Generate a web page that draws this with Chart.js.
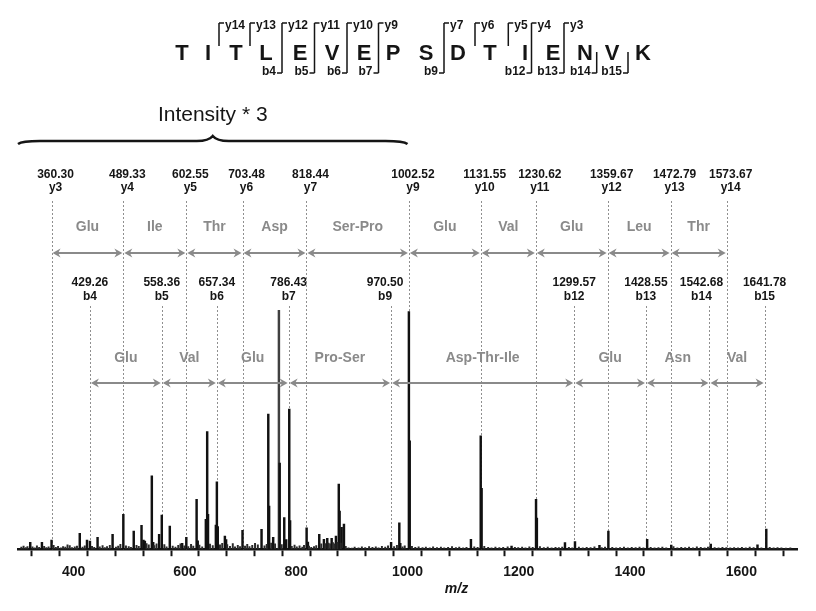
<!DOCTYPE html>
<html>
<head>
<meta charset="utf-8">
<title>MS/MS spectrum TITLEVEPSDTIENVK</title>
<script src="https://cdn.jsdelivr.net/npm/chart.js@4.4.1/dist/chart.umd.min.js"></script>
<style>
  html, body { margin: 0; padding: 0; background: #fff; }
  #wrap { width: 816px; height: 611px; }
</style>
</head>
<body>
<div id="wrap"><canvas id="spectrum" width="816" height="611"></canvas></div>
<script>
// ==========================
// Data
// ==========================

const peptide = ["T", "I", "T", "L", "E", "V", "E", "P", "S", "D", "T", "I", "E", "N", "V", "K"];

// fragment marks in the sequence header (cut after residue n)
const cutAfter = [2, 3, 4, 5, 6, 7, 9, 10, 11, 12, 13, 14, 15];
const cutY = ["y14", "y13", "y12", "y11", "y10", "y9", "y7", "y6", "y5", "y4", "y3", "", ""];
const cutB = ["", "", "b4", "b5", "b6", "b7", "b9", "", "", "b12", "b13", "b14", "b15"];

// y ion ladder
const yIonMz = [360.30, 489.33, 602.55, 703.48, 818.44, 1002.52, 1131.55, 1230.62, 1359.67, 1472.79, 1573.67];
const yIonNames = ["y3", "y4", "y5", "y6", "y7", "y9", "y10", "y11", "y12", "y13", "y14"];
const yGaps = ["Glu", "Ile", "Thr", "Asp", "Ser-Pro", "Glu", "Val", "Glu", "Leu", "Thr"];

// b ion ladder
const bIonMz = [429.26, 558.36, 657.34, 786.43, 970.50, 1299.57, 1428.55, 1542.68, 1641.78];
const bIonNames = ["b4", "b5", "b6", "b7", "b9", "b12", "b13", "b14", "b15"];
const bGaps = ["Glu", "Val", "Glu", "Pro-Ser", "Asp-Thr-Ile", "Glu", "Asn", "Val"];

// region shown with intensity * 3
const scaledRange = [300, 1000];

// main peaks (relative intensity, as drawn)
const peakMz = [322, 343, 360.3, 411, 424, 429.3, 443, 470, 489.3, 508, 522, 525.5, 528,
  540.5, 543, 553.6, 558.4, 572.8, 595, 602.5, 621, 623, 637.6, 640, 641.5, 655.6, 657.4,
  659, 671.8, 674, 703.5, 737.7, 749.8, 751.3, 758.6, 768.9, 770.3, 778.5, 782, 787.5, 789,
  818.7, 821, 841.4, 849.8, 855.8, 863.7, 871.4, 876.5, 878, 881.6, 885.8, 970.5, 985.3, 987,
  1002.5, 1004, 1114, 1131.6, 1133.2, 1187, 1231, 1232.5, 1283, 1301, 1345, 1361, 1430.7,
  1474, 1545, 1629, 1644.8];
const peakInt = [2.9, 2.9, 3.8, 6.6, 3.8, 3.4, 5.0, 6.2, 14.6, 7.6, 10.0, 3.8, 3.4,
  30.7, 2.9, 6.2, 14.3, 9.7, 2.5, 5.0, 20.9, 3.5, 12.5, 49.3, 14.6, 10.1, 28.2,
  9.5, 5.5, 4.0, 7.9, 8.3, 56.6, 18.1, 5.0, 100, 36.1, 13.2, 4.0, 58.7, 12.0,
  9.0, 3.0, 6.2, 4.1, 4.5, 4.5, 5.5, 27.3, 16.0, 9.2, 10.5, 2.9, 11.0, 2.5,
  99.5, 45.4, 4.1, 47.5, 25.5, 1.3, 20.9, 13.0, 2.8, 3.2, 1.6, 7.6, 4.1,
  1.7, 2.1, 1.8, 8.4];

// low level baseline signals
const noiseMz = [306, 310, 314, 317, 326, 330, 334, 338, 347, 351, 355, 364, 368, 372, 377, 381,
  385, 389, 393, 397, 402, 406, 416, 420, 433, 437, 447, 452, 456, 460, 465, 476, 480, 484, 494,
  499, 503, 513, 517, 531, 535, 545, 549, 563, 567, 578, 583, 588, 592, 599, 606, 611, 615, 626,
  631, 645, 650, 663, 667, 676, 681, 686, 690, 695, 699, 708, 712, 716, 721, 726, 731, 743, 747,
  755, 762, 774, 792, 797, 801, 806, 811, 814, 823, 827, 832, 836, 845, 852, 858, 861, 866, 869,
  874, 880, 889, 894, 900, 905, 912, 918, 924, 931, 937, 943, 948, 954, 960, 965, 976, 981, 991,
  995, 1008, 1014, 1020, 1027, 1033, 1040, 1046, 1053, 1060, 1066, 1073, 1080, 1087, 1093, 1100,
  1106, 1120, 1126, 1138, 1145, 1151, 1158, 1165, 1172, 1180, 1193, 1199, 1206, 1212, 1219, 1225,
  1238, 1245, 1252, 1259, 1266, 1272, 1278, 1290, 1296, 1308, 1315, 1322, 1329, 1336, 1349, 1355,
  1368, 1375, 1382, 1389, 1396, 1403, 1410, 1417, 1424, 1437, 1444, 1451, 1458, 1465, 1478, 1485,
  1492, 1499, 1506, 1513, 1520, 1527, 1534, 1540, 1552, 1559, 1566, 1573, 1580, 1587, 1594, 1601,
  1608, 1615, 1622, 1636, 1651, 1658, 1665, 1672, 1680, 1688];
const noiseInt = [0.9, 1.3, 0.7, 1.1, 1.0, 0.6, 1.4, 0.8, 1.2, 0.7, 1.0, 1.6, 0.8, 1.2, 0.6, 1.1,
  0.9, 1.8, 1.5, 0.7, 1.0, 1.3, 0.9, 1.4, 1.2, 0.8, 1.0, 1.5, 0.7, 1.1, 1.6, 0.9, 1.3, 2.0, 1.4,
  1.1, 0.8, 1.6, 1.2, 2.4, 1.8, 1.5, 2.2, 1.9, 1.0, 1.3, 0.9, 1.6, 2.2, 1.4, 1.1, 2.0, 1.3, 1.7,
  1.0, 2.1, 1.5, 1.8, 2.5, 1.9, 1.2, 2.4, 1.0, 1.6, 1.1, 1.3, 2.0, 1.1, 1.6, 2.5, 1.8, 1.4, 2.0,
  2.6, 2.2, 1.9, 1.2, 1.7, 1.0, 1.4, 0.9, 1.6, 1.3, 0.8, 1.1, 1.5, 2.2, 2.4, 2.6, 2.2, 2.8, 2.3,
  2.9, 2.6, 1.2, 0.6, 0.5, 0.9, 0.6, 1.0, 0.7, 1.1, 0.8, 1.0, 0.6, 1.2, 0.9, 1.4, 1.1, 1.6, 1.0,
  1.4, 1.2, 0.8, 1.0, 0.7, 0.9, 0.6, 1.0, 0.7, 0.9, 0.6, 0.8, 1.1, 0.7, 0.9, 0.6,
  0.8, 1.0, 0.8, 1.2, 0.8, 0.6, 0.9, 0.7, 0.8, 1.0, 0.8, 0.7, 0.9, 0.6, 1.0, 0.8,
  1.1, 0.7, 0.9, 0.6, 0.8, 0.7, 0.9, 0.8, 0.6, 0.9, 0.6, 0.8, 0.7, 1.0, 0.7, 0.9,
  0.8, 0.6, 0.7, 0.9, 0.6, 0.8, 0.7, 0.9, 0.6, 0.8, 0.6, 0.7, 0.9, 0.6, 1.1, 0.6,
  0.8, 0.7, 0.9, 0.6, 1.0, 0.8, 0.6, 0.9, 0.7, 0.6, 0.8, 0.7, 0.6, 0.7, 0.6, 0.8,
  0.6, 0.9, 0.7, 0.6, 0.8, 0.6, 0.7, 0.6, 0.5, 0.6];

const xTickLabels = [400, 600, 800, 1000, 1200, 1400, 1600];


// ==========================
// Layout (pixels) for the drawn annotations
// ==========================

const seqX = [182, 208, 236, 266, 300, 332, 364, 393, 426, 458, 490, 525, 553, 585, 612, 643];
const cutX = [219, 250, 282, 314.5, 347, 378.5, 444, 475, 508.3, 531.5, 564, 596.7, 628];

const row = {
  seqBase: 59.5, markTop: 23, markYEnd: 46, markBStart: 52, markBot: 73,
  braceY: 141, braceText: 115,
  yVal: 175, yName: 188, yLineTop: 201, yAA: 227, yArrow: 253,
  bVal: 283, bName: 296.5, bLineTop: 306, bAA: 358, bArrow: 383
};
const yShift = 4;
const bShift = { "970.50": -6, "1542.68": -8 };

const FONT = 'Arial, "Liberation Sans", sans-serif';
const INK = "#151515";
const GREY = "#8a8a8a";


// ==========================
// Annotation plugin
// ==========================

function arrowHead(ctx, x, y, dir) {
    // dir = -1 points left, +1 points right
    ctx.beginPath();
    ctx.moveTo(x, y);
    ctx.lineTo(x - dir * 8, y - 4.5);
    ctx.lineTo(x - dir * 5.5, y);
    ctx.lineTo(x - dir * 8, y + 4.5);
    ctx.closePath();
    ctx.fill();
}

function doubleArrow(ctx, x1, x2, y) {
    ctx.save();
    ctx.strokeStyle = GREY;
    ctx.fillStyle = GREY;
    ctx.lineWidth = 2;
    ctx.beginPath();
    ctx.moveTo(x1 + 3, y);
    ctx.lineTo(x2 - 3, y);
    ctx.stroke();
    arrowHead(ctx, x1 + 1, y, -1);
    arrowHead(ctx, x2 - 1, y, 1);
    ctx.restore();
}

function dashed(ctx, x, yTop, yBot) {
    ctx.save();
    ctx.strokeStyle = "#8f8f8f";
    ctx.lineWidth = 1;
    ctx.setLineDash([2, 2]);
    ctx.beginPath();
    ctx.moveTo(Math.round(x) + 0.5, yTop);
    ctx.lineTo(Math.round(x) + 0.5, yBot);
    ctx.stroke();
    ctx.restore();
}

const annotate = {
    id: "annotate",

    beforeDatasetsDraw(chart) {
        const ctx = chart.ctx;
        const xs = chart.scales.x;
        const bottom = chart.chartArea.bottom;
        yIonMz.forEach(m => dashed(ctx, xs.getPixelForValue(m), row.yLineTop, bottom));
        bIonMz.forEach(m => dashed(ctx, xs.getPixelForValue(m), row.bLineTop, bottom));
    },

    afterDraw(chart) {
        const ctx = chart.ctx;
        const xs = chart.scales.x;
        const area = chart.chartArea;
        ctx.save();
        ctx.textAlign = "center";
        ctx.textBaseline = "middle";

        // y ion labels
        ctx.fillStyle = INK;
        ctx.font = "bold 12px " + FONT;
        yIonMz.forEach((m, i) => {
            const x = xs.getPixelForValue(m) + yShift;
            ctx.fillText(m.toFixed(2), x, row.yVal);
            ctx.fillText(yIonNames[i], x, row.yName);
        });

        // b ion labels
        bIonMz.forEach((m, i) => {
            const key = m.toFixed(2);
            const x = xs.getPixelForValue(m) + (bShift[key] || 0);
            ctx.fillText(key, x, row.bVal);
            ctx.fillText(bIonNames[i], x, row.bName);
        });

        // residue gaps
        ctx.font = "bold 14px " + FONT;
        ctx.fillStyle = GREY;
        yGaps.forEach((aa, i) => {
            const x1 = xs.getPixelForValue(yIonMz[i]);
            const x2 = xs.getPixelForValue(yIonMz[i + 1]);
            ctx.fillText(aa, (x1 + x2) / 2, row.yAA);
            doubleArrow(ctx, x1, x2, row.yArrow);
        });
        bGaps.forEach((aa, i) => {
            const x1 = xs.getPixelForValue(bIonMz[i]);
            const x2 = xs.getPixelForValue(bIonMz[i + 1]);
            ctx.fillText(aa, (x1 + x2) / 2, row.bAA);
            doubleArrow(ctx, x1, x2, row.bArrow);
        });

        // brace over the scaled region
        const bx1 = xs.getPixelForValue(scaledRange[0]);
        const bx2 = xs.getPixelForValue(scaledRange[1]);
        const mid = (bx1 + bx2) / 2;
        const by = row.braceY;
        ctx.strokeStyle = INK;
        ctx.lineWidth = 2.5;
        ctx.beginPath();
        ctx.moveTo(bx1, by + 3);
        ctx.quadraticCurveTo(bx1 + 4, by, bx1 + 22, by);
        ctx.lineTo(mid - 16, by);
        ctx.quadraticCurveTo(mid - 4, by, mid, by - 5);
        ctx.quadraticCurveTo(mid + 4, by, mid + 16, by);
        ctx.lineTo(bx2 - 22, by);
        ctx.quadraticCurveTo(bx2 - 4, by, bx2, by + 3);
        ctx.stroke();
        ctx.fillStyle = INK;
        ctx.font = "21px " + FONT;
        ctx.fillText("Intensity * 3", mid, row.braceText);

        // m/z axis title
        ctx.font = "italic bold 14px " + FONT;
        ctx.fillText("m/z", (area.left + area.right) / 2 + 49, area.bottom + 40);

        // peptide sequence
        ctx.font = "bold 22px " + FONT;
        ctx.textBaseline = "alphabetic";
        peptide.forEach((aa, i) => ctx.fillText(aa, seqX[i], row.seqBase));

        // fragment brackets
        ctx.lineWidth = 1.5;
        ctx.font = "bold 12px " + FONT;
        cutAfter.forEach((c, i) => {
            const x = cutX[i];
            const hasY = cutY[i] !== "";
            const hasB = cutB[i] !== "";
            const top = hasY ? row.markTop : row.markBStart;
            const bot = hasB ? row.markBot : row.markYEnd;
            ctx.beginPath();
            ctx.moveTo(x, top);
            ctx.lineTo(x, bot);
            if (hasY) { ctx.moveTo(x, row.markTop); ctx.lineTo(x + 5, row.markTop); }
            if (hasB) { ctx.moveTo(x, row.markBot); ctx.lineTo(x - 5, row.markBot); }
            ctx.stroke();
            if (hasY) { ctx.textAlign = "left"; ctx.fillText(cutY[i], x + 6, row.markTop + 6); }
            if (hasB) { ctx.textAlign = "right"; ctx.fillText(cutB[i], x - 6, row.markBot + 2); }
        });

        ctx.restore();
    }
};


// ==========================
// Spectrum
// ==========================

const peaks = peakMz.map((m, i) => ({ x: m, y: peakInt[i] }));
const noise = noiseMz.map((m, i) => ({ x: m, y: noiseInt[i] }));

const spectrum = new Chart(document.getElementById("spectrum"), {

    type: "bar",

    data: {
        datasets: [
            { label: "baseline", data: noise, backgroundColor: "#2a2a2a", barThickness: 1.3, grouped: false },
            { label: "peaks", data: peaks, backgroundColor: ctx => (ctx.raw && ctx.raw.y === 100 ? "#404040" : "#111"), barThickness: 1.8, grouped: false }
        ]
    },

    options: {
        responsive: false,
        animation: false,
        layout: { padding: { left: 18, right: 19, top: 0, bottom: 22 } },
        plugins: { legend: { display: false }, tooltip: { enabled: false } },
        scales: {
            x: {
                type: "linear",
                min: 300,
                max: 1700,
                offset: false,
                ticks: {
                    stepSize: 50,
                    autoSkip: false,
                    maxRotation: 0,
                    padding: 8,
                    color: INK,
                    font: { family: FONT, size: 14, weight: "bold" },
                    callback: v => (xTickLabels.includes(v) ? String(v) : "")
                },
                grid: { drawOnChartArea: false, drawTicks: true, tickLength: 7, tickWidth: 2, tickColor: INK },
                border: { display: true, color: INK, width: 2.5 }
            },
            y: { display: false, min: 0, max: 230 }
        }
    },

    plugins: [annotate]
});
</script>
</body>
</html>
